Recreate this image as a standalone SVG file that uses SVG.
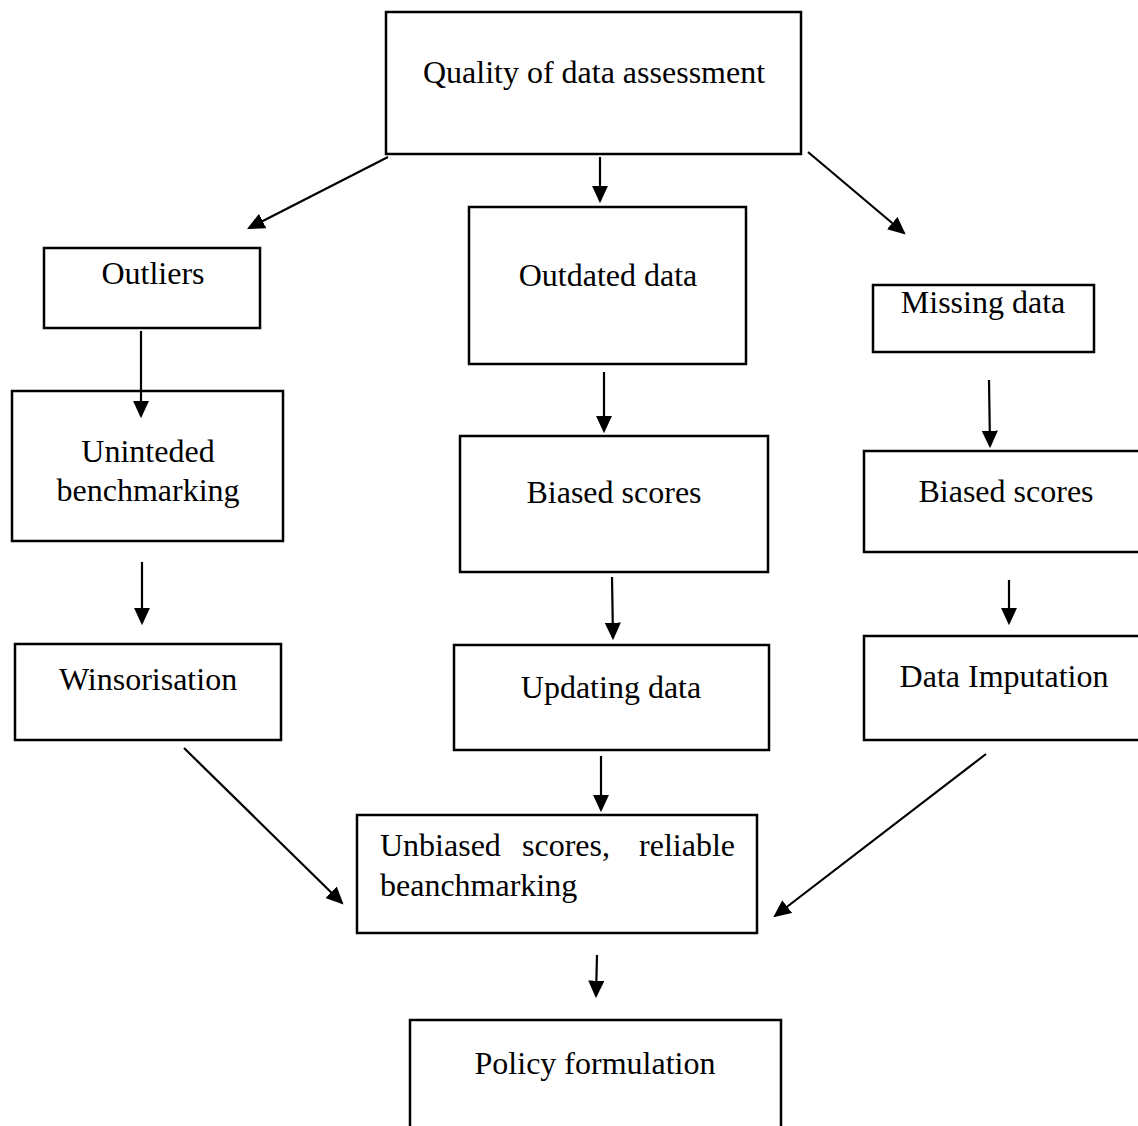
<svg xmlns="http://www.w3.org/2000/svg" width="1138" height="1126" viewBox="0 0 1138 1126">
<style>
.box{fill:#fff;stroke:#000;stroke-width:2.5}
.t{font-family:"Liberation Serif","Times New Roman",serif;font-size:32px;fill:#000}
.c{text-anchor:middle}
.ln{stroke:#000;stroke-width:2.2;fill:none;marker-end:url(#ah)}
</style>
<defs>
<marker id="ah" markerWidth="8" markerHeight="7.4" refX="7" refY="3.7" orient="auto" markerUnits="strokeWidth">
<path d="M0,0 L8,3.7 L0,7.4 Z" fill="#000"/>
</marker>
</defs>
<rect width="1138" height="1126" fill="#fff"/>
<g id="quality"><rect class="box" x="386" y="12" width="415" height="142"/><text class="t c" x="594" y="83">Quality of data assessment</text></g>
<g id="outliers"><rect class="box" x="44" y="248" width="216" height="80"/><text class="t c" x="153" y="284">Outliers</text></g>
<g id="outdated"><rect class="box" x="469" y="207" width="277" height="157"/><text class="t c" x="608" y="286">Outdated data</text></g>
<g id="missing"><rect class="box" x="873" y="285" width="221" height="67"/><text class="t c" x="983" y="313">Missing data</text></g>
<g id="uninteded"><rect class="box" x="12" y="391" width="271" height="150"/><text class="t c" x="148" y="462">Uninteded</text><text class="t c" x="148" y="501">benchmarking</text></g>
<g id="biased-mid"><rect class="box" x="460" y="436" width="308" height="136"/><text class="t c" x="614" y="503">Biased scores</text></g>
<g id="biased-right"><rect class="box" x="864" y="451" width="290" height="101"/><text class="t c" x="1006" y="502">Biased scores</text></g>
<g id="winsorisation"><rect class="box" x="15" y="644" width="266" height="96"/><text class="t c" x="148" y="690">Winsorisation</text></g>
<g id="updating"><rect class="box" x="454" y="645" width="315" height="105"/><text class="t c" x="611" y="698">Updating data</text></g>
<g id="imputation"><rect class="box" x="864" y="636" width="290" height="104"/><text class="t c" x="1004" y="687">Data Imputation</text></g>
<g id="unbiased"><rect class="box" x="357" y="815" width="400" height="118"/><text class="t" x="380" y="856">Unbiased</text><text class="t c" x="566" y="856">scores,</text><text class="t" x="735" y="856" text-anchor="end">reliable</text><text class="t" x="380" y="896">beanchmarking</text></g>
<g id="policy"><rect class="box" x="410" y="1020" width="371" height="120"/><text class="t c" x="595" y="1074">Policy formulation</text></g>
<g id="connectors">
<line class="ln" x1="388" y1="157" x2="249" y2="228"/>
<line class="ln" x1="600" y1="157" x2="600" y2="201"/>
<line class="ln" x1="808" y1="152" x2="904" y2="233"/>
<line class="ln" x1="141" y1="331" x2="141" y2="416"/>
<line class="ln" x1="604" y1="372" x2="604" y2="431"/>
<line class="ln" x1="989" y1="380" x2="990" y2="446"/>
<line class="ln" x1="142" y1="562" x2="142" y2="623"/>
<line class="ln" x1="612" y1="577" x2="613" y2="638"/>
<line class="ln" x1="1009" y1="580" x2="1009" y2="623"/>
<line class="ln" x1="184" y1="748" x2="342" y2="903"/>
<line class="ln" x1="601" y1="756" x2="601" y2="810"/>
<line class="ln" x1="986" y1="754" x2="775" y2="916"/>
<line class="ln" x1="597" y1="955" x2="596" y2="996"/>
</g>
</svg>
